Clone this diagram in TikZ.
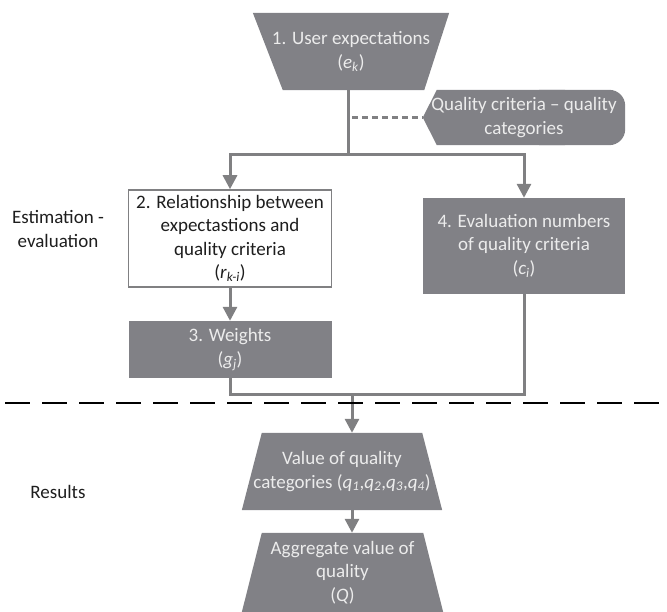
\documentclass[tikz,border=0pt]{standalone}
\usepackage{fontspec}
\setmainfont{Carlito}
\usetikzlibrary{arrows.meta,backgrounds}
\definecolor{boxgrey}{RGB}{129,129,134}
\definecolor{linegrey}{RGB}{128,128,130}
\definecolor{lighttext}{RGB}{236,236,236}
\definecolor{darktext}{RGB}{30,30,30}
\newcommand\vsub[2]{\textit{#1}\textsubscript{\textit{#2}}}
\begin{document}
\begin{tikzpicture}[x=1pt,y=-1pt,
  txt/.style={align=center,font=\fontsize{19}{23.5}\selectfont,inner sep=0pt},
  darkbox/.style={txt,rectangle,fill=boxgrey,text=lighttext},
  whitebox/.style={txt,rectangle,fill=white,draw=linegrey,line width=1.5pt,text=darktext},
  shapebox/.style={txt,rectangle,text=lighttext},
  conn/.style={draw=linegrey,line width=3pt},
  arr/.style={conn,-{Triangle[width=14pt,length=14pt]}},
  lbl/.style={txt,text=darktext}
]
\useasboundingbox (0,0) rectangle (667,612);

% nodes
\node[shapebox,minimum width=196pt,minimum height=77pt] (t1) at (351,51.5) {1. User expectations\\(\vsub{e}{k})};
\node[shapebox,minimum width=202pt,minimum height=55pt] (q) at (524,117.5) {Quality criteria -- quality\\categories};
\node[whitebox,minimum width=203pt,minimum height=97pt] (b2) at (230,238.5) {2. Relationship between\\expectastions and\\quality criteria\\(\vsub{r}{k-i})};
\node[darkbox,minimum width=203pt,minimum height=57pt] (b3) at (230,349.5) {3. Weights\\(\vsub{g}{j})};
\node[darkbox,minimum width=202pt,minimum height=96pt] (b4) at (524,246) {4. Evaluation numbers\\of quality criteria\\(\vsub{c}{i})};
\node[shapebox,minimum width=200pt,minimum height=77pt] (t2) at (342,471.5) {Value of quality\\categories (\vsub{q}{1},\vsub{q}{2},\vsub{q}{3},\vsub{q}{4})};
\node[shapebox,minimum width=201pt,minimum height=79pt] (t3) at (342.5,572.5) {Aggregate value of\\quality\\(\textit{Q})};
\node[lbl] (l1) at (58,229) {Estimation -\\evaluation};
\node[lbl] (l2) at (58,492) {Results};

% shapes behind the texts
\begin{scope}[on background layer]
\fill[boxgrey] (t1.north west) -- (t1.north east) -- ([xshift=-25pt]t1.south east) -- ([xshift=30pt]t1.south west) -- cycle;
\fill[boxgrey] (q.west) -- ([xshift=14pt]q.north west) -- ([xshift=-60pt]q.north east) -- ([xshift=-60pt]q.south east) -- ([xshift=14pt]q.south west) -- cycle;
\fill[boxgrey,rounded corners=16pt] ([xshift=-100pt]q.north east) rectangle (q.south east);
\fill[boxgrey] (t2.south west) -- (t2.south east) -- ([xshift=-20pt]t2.north east) -- ([xshift=20pt]t2.north west) -- cycle;
\fill[boxgrey] (t3.south west) -- (t3.south east) -- ([xshift=-20pt]t3.north east) -- ([xshift=20pt]t3.north west) -- cycle;
\end{scope}

% connectors
\coordinate (j) at (348,155);
\coordinate (m) at (352,395);
\draw[conn] (t1.south -| j) -- (j);
\draw[arr] (j) -| (b2.north);
\draw[arr] (j) -| (b4.north);
\draw[draw=linegrey,line width=2.5pt,dash pattern=on 6pt off 4pt] ([xshift=4pt]j |- q.west) -- (q.west);
\draw[arr] (b2.south) -- (b3.north);
\draw[conn] (b3.south) |- (m);
\draw[conn] (b4.south) |- (m);
\draw[arr] (m) -- (m |- t2.north);
\draw[arr] (t2.south -| m) -- (t3.north -| m);

% separator
\draw[black,line width=1.6pt,dash pattern=on 25pt off 12pt] (5,403) -- (667,403);
\end{tikzpicture}
\end{document}
